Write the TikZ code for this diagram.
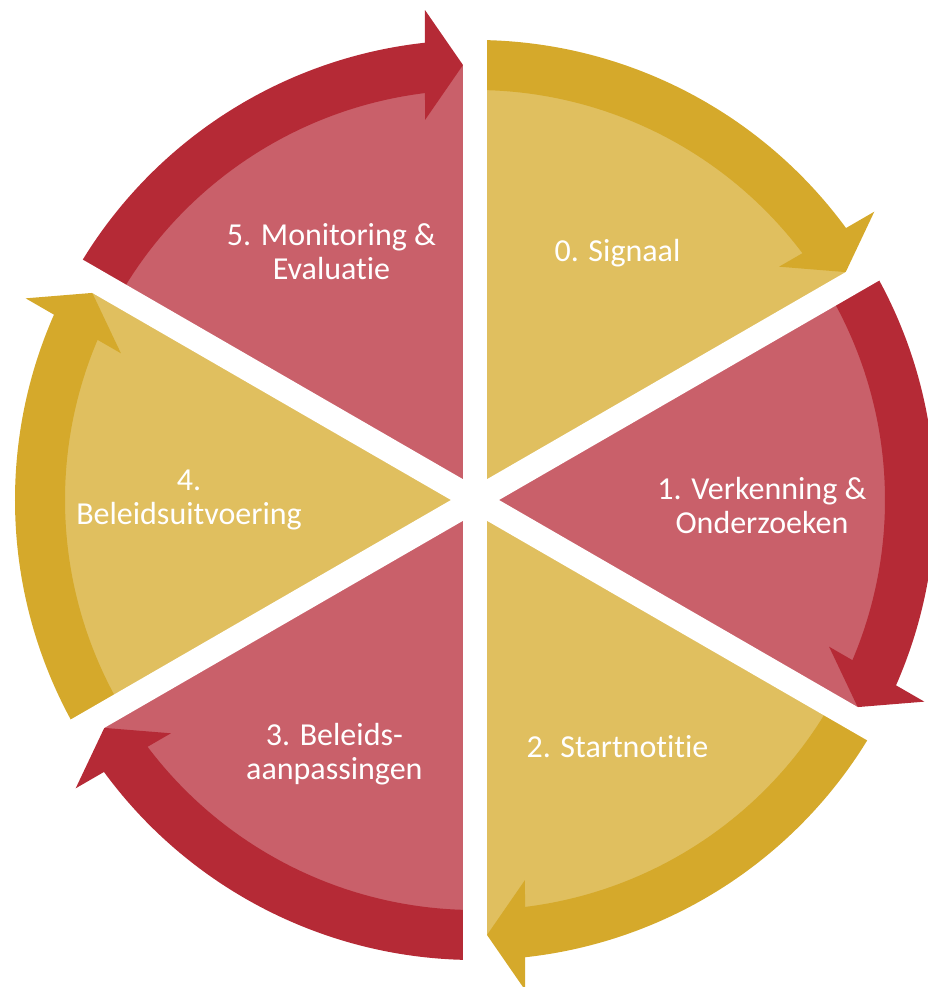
\documentclass[tikz,border=0pt]{standalone}
\usepackage{fontspec}
\setmainfont{Carlito}[Ligatures=NoCommon]
\usepackage{xcolor}
\definecolor{lightyellow}{HTML}{E0BF5F}
\definecolor{darkyellow}{HTML}{D5A92B}
\definecolor{lightred}{HTML}{C9606A}
\definecolor{darkred}{HTML}{B52A36}

\begin{document}
\begin{tikzpicture}[x=1pt,y=1pt,
    phase text/.style={text=white,align=center,font=\fontsize{32}{34}\selectfont},
    gap line/.style={draw=white,line width=24pt}]

            \useasboundingbox (-475,-487) rectangle (453,500);

            % pie slices
            \fill[lightyellow, rotate=0]   (0,0) -- (90:435) arc[start angle=90, end angle=30, radius=435] -- cycle;
            \fill[lightred, rotate=-60]    (0,0) -- (90:435) arc[start angle=90, end angle=30, radius=435] -- cycle;
            \fill[lightyellow, rotate=-120] (0,0) -- (90:435) arc[start angle=90, end angle=30, radius=435] -- cycle;
            \fill[lightred, rotate=-180]   (0,0) -- (90:435) arc[start angle=90, end angle=30, radius=435] -- cycle;
            \fill[lightyellow, rotate=-240] (0,0) -- (90:435) arc[start angle=90, end angle=30, radius=435] -- cycle;
            \fill[lightred, rotate=-300]   (0,0) -- (90:435) arc[start angle=90, end angle=30, radius=435] -- cycle;

            % bands
            \fill[darkyellow, rotate=0]   (90:410) -- (90:460) arc[start angle=90, end angle=36, radius=460] -- (36:410) arc[start angle=36, end angle=90, radius=410] -- cycle;
            \fill[darkred, rotate=-60]    (90:410) -- (90:460) arc[start angle=90, end angle=36, radius=460] -- (36:410) arc[start angle=36, end angle=90, radius=410] -- cycle;
            \fill[darkyellow, rotate=-120] (90:410) -- (90:460) arc[start angle=90, end angle=36, radius=460] -- (36:410) arc[start angle=36, end angle=90, radius=410] -- cycle;
            \fill[darkred, rotate=-180]   (90:410) -- (90:460) arc[start angle=90, end angle=36, radius=460] -- (36:410) arc[start angle=36, end angle=90, radius=410] -- cycle;
            \fill[darkyellow, rotate=-240] (90:410) -- (90:460) arc[start angle=90, end angle=36, radius=460] -- (36:410) arc[start angle=36, end angle=90, radius=410] -- cycle;
            \fill[darkred, rotate=-300]   (90:410) -- (90:460) arc[start angle=90, end angle=36, radius=460] -- (36:410) arc[start angle=36, end angle=90, radius=410] -- cycle;

            % arrow heads
            \fill[darkyellow, rotate=0]   (370.7,227.9) -- (399.3,288.3) -- (304.1,233.3) -- cycle;
            \fill[darkred, rotate=-60]    (370.7,227.9) -- (399.3,288.3) -- (304.1,233.3) -- cycle;
            \fill[darkyellow, rotate=-120] (370.7,227.9) -- (399.3,288.3) -- (304.1,233.3) -- cycle;
            \fill[darkred, rotate=-180]   (370.7,227.9) -- (399.3,288.3) -- (304.1,233.3) -- cycle;
            \fill[darkyellow, rotate=-240] (370.7,227.9) -- (399.3,288.3) -- (304.1,233.3) -- cycle;
            \fill[darkred, rotate=-300]   (370.7,227.9) -- (399.3,288.3) -- (304.1,233.3) -- cycle;

            % white gaps
            \draw[gap line] (0,0) -- (90:500);
            \draw[gap line] (0,0) -- (30:500);
            \draw[gap line] (0,0) -- (-30:500);
            \draw[gap line] (0,0) -- (-90:500);
            \draw[gap line] (0,0) -- (-150:500);
            \draw[gap line] (0,0) -- (150:500);

            \node[phase text] (signaal) at (60:285) {0. Signaal};
            \node[phase text] (verkenning) at (-1:287) {1. Verkenning \&\\Onderzoeken};
            \node[phase text] (startnotitie) at (-60:285) {2. Startnotitie};
            \node[phase text] (aanpassingen) at (-119:290) {3. Beleids-\\aanpassingen};
            \node[phase text] (uitvoering) at (180:286) {4.\\Beleidsuitvoering};
            \node[phase text] (monitoring) at (120:287) {5. Monitoring \&\\Evaluatie};

            ;
        \end{tikzpicture}
\end{document}
